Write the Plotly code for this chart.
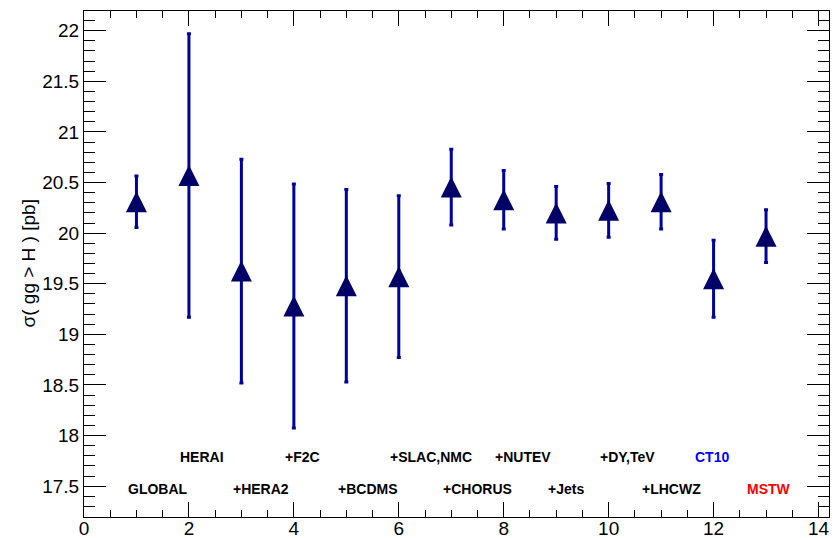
import plotly.graph_objects as go

# Fit index along the x axis and the resulting cross sections
fit_index = [1, 2, 3, 4, 5, 6, 7, 8, 9, 10, 11, 12, 13]
xsec = [20.31, 20.57, 19.625, 19.28, 19.48, 19.57, 20.455, 20.33, 20.20, 20.225, 20.31, 19.55, 19.97]
xsec_err = [0.255, 1.40, 1.105, 1.205, 0.95, 0.80, 0.375, 0.29, 0.26, 0.265, 0.27, 0.38, 0.26]

# Data-set labels written inside the frame (two alternating rows)
fit_labels = ["GLOBAL", "HERAI", "+HERA2", "+F2C", "+BCDMS", "+SLAC,NMC", "+CHORUS",
              "+NUTEV", "+Jets", "+DY,TeV", "+LHCWZ", "CT10", "MSTW"]
label_x = [0.8, 1.8, 2.8, 3.8, 4.8, 5.8, 6.8, 7.8, 8.8, 9.8, 10.6, 11.6, 12.6]
label_y = [17.47, 17.79, 17.47, 17.79, 17.47, 17.79, 17.47, 17.79, 17.47, 17.79, 17.47, 17.79, 17.47]
label_colors = ["black"] * 11 + ["#0000ff", "#ff0000"]

FONT = "Liberation Sans, Arial, Helvetica, sans-serif"
MARKER_SIZE = 21

fig = go.Figure()
fig.add_trace(go.Scatter(
    x=fit_index,
    y=xsec,
    mode="markers",
    error_y=dict(type="data", array=xsec_err, symmetric=True,
                 color="#00009c", thickness=3, width=2),
    # upward triangle centred on the point (equal width and height)
    marker=dict(symbol="arrow-down", angle=180, standoff=MARKER_SIZE / 2,
                size=MARKER_SIZE, color="#000066", line=dict(width=0)),
    showlegend=False,
    hoverinfo="x+y",
))

for txt, lx, ly, col in zip(fit_labels, label_x, label_y, label_colors):
    fig.add_annotation(x=lx, y=ly, xref="x", yref="y", text=f"<b>{txt}</b>",
                       showarrow=False, xanchor="left", yanchor="middle",
                       font=dict(family=FONT, size=14, color=col))

fig.add_annotation(x=0, y=0.5, xref="paper", yref="paper", xshift=-56.5,
                   text="σ( gg > H ) [pb]", textangle=-90, showarrow=False,
                   xanchor="center", yanchor="middle",
                   font=dict(family=FONT, size=19, color="black"))

axis_common = dict(
    showgrid=False, zeroline=False, automargin=False,
    showline=True, linecolor="black", linewidth=1, mirror="ticks",
    ticks="inside", tickcolor="black", tickwidth=1,
    tickfont=dict(family=FONT, size=19, color="black"),
)

fig.update_xaxes(range=[0, 14.2], tick0=0, dtick=2, ticklen=15, ticklabelstandoff=-6,
                 minor=dict(dtick=0.5, ticklen=7, ticks="inside", tickcolor="black"),
                 **axis_common)
fig.update_yaxes(range=[17.195, 22.195], tick0=17.5, dtick=0.5, ticklen=22,
                 minor=dict(dtick=0.1, ticklen=11, ticks="inside", tickcolor="black"),
                 **axis_common)

fig.update_layout(
    width=835, height=538,
    margin=dict(l=84, r=6, t=11, b=21),
    paper_bgcolor="white", plot_bgcolor="white",
    font=dict(family=FONT),
)

fig.write_html("out.html")
